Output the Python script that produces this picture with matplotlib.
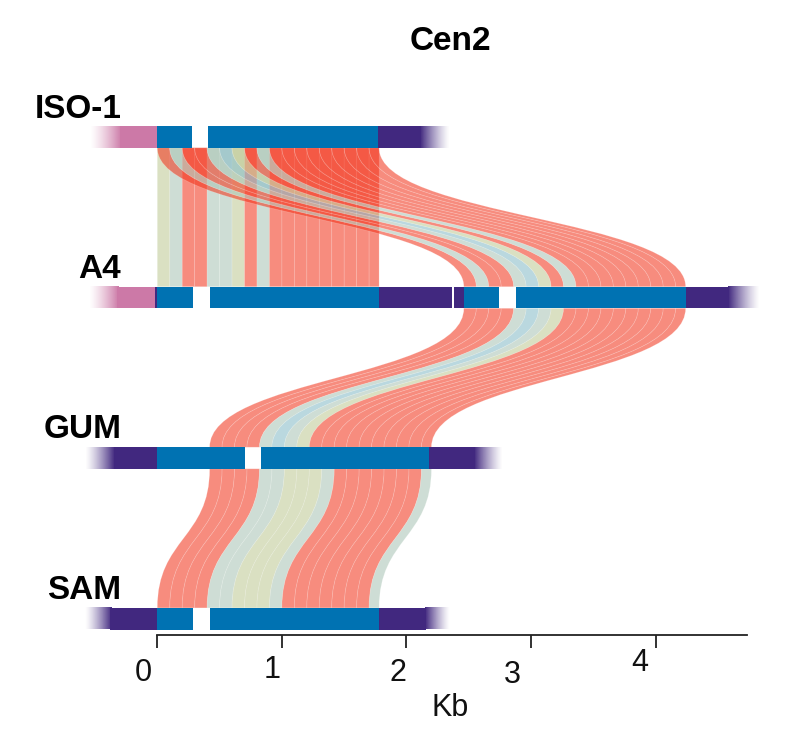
import numpy as np
import matplotlib
matplotlib.use("Agg")
import matplotlib.pyplot as plt
from matplotlib.path import Path
from matplotlib.patches import PathPatch, Rectangle
from matplotlib.colors import to_rgb

plt.rcParams['font.family'] = ['Liberation Sans', 'DejaVu Sans']

# ---- data (Kb) ----
tracks = ['ISO-1', 'A4', 'GUM', 'SAM']

# solid bar segments per track: (start, end, kind)
bar_segments = {
    'ISO-1': [(-0.30, 0.0, 'pink'), (0.0, 0.28, 'blue'), (0.41, 1.77, 'blue'), (1.77, 2.12, 'purple')],
    'A4': [(-0.32, 0.0, 'pink'), (-0.015, 0.0, 'purple'), (0.0, 0.29, 'blue'), (0.42, 1.78, 'blue'),
           (1.78, 2.368, 'purple'), (2.378, 2.46, 'purple'), (2.46, 2.74, 'blue'), (2.88, 4.24, 'blue'),
           (4.24, 4.59, 'purple')],
    'GUM': [(-0.35, 0.0, 'purple'), (0.0, 0.70, 'blue'), (0.83, 2.18, 'blue'), (2.18, 2.55, 'purple')],
    'SAM': [(-0.38, 0.0, 'purple'), (0.0, 0.29, 'blue'), (0.42, 1.78, 'blue'), (1.78, 2.16, 'purple')],
}
# faded ends: (start, end, kind, direction) direction +1 fades in, -1 fades out
bar_fades = {
    'ISO-1': [(-0.54, -0.30, 'pink', 1), (2.12, 2.35, 'purple', -1)],
    'A4': [(-0.55, -0.32, 'pink', 1), (4.59, 4.83, 'purple', -1)],
    'GUM': [(-0.58, -0.35, 'purple', 1), (2.55, 2.77, 'purple', -1)],
    'SAM': [(-0.58, -0.38, 'purple', 1), (2.16, 2.35, 'purple', -1)],
}

# synteny links
link_from = ['ISO-1', 'ISO-1', 'A4', 'GUM']
link_to = ['A4', 'A4', 'GUM', 'SAM']
link_from_start = [0.0, 0.0, 2.46, 0.42]
link_to_start = [0.0, 2.46, 0.42, 0.0]
link_length = [1.78, 1.78, 1.78, 1.78]
block_kb = 0.1
link_blocks = ['YGSSGGYSGSSSSSSSSS',
               'SGSSGBYSGSSSSSSSSS',
               'SSSSGBGYSSSSSSSSSS',
               'SSSSGGYYYGSSSSSSSG']

tick_values = [0, 1, 2, 3, 4]
tick_labels = ['0', '1', '2', '3', '4']
axis_end = 4.73

# ---- style / layout ----
bar_colors = {'blue': '#0072b2', 'purple': '#41287f', 'pink': '#cc79a7'}
block_colors = {'S': (242/255, 50/255, 25/255), 'G': (169/255, 196/255, 180/255),
                'Y': (189/255, 200/255, 146/255), 'B': (132/255, 187/255, 198/255)}
block_alpha = 0.56
track_y = {'ISO-1': 137, 'A4': 297.5, 'GUM': 458, 'SAM': 618.7}
hh = 10.8
px_per_kb = 124.6
x0_px = 157.3
# tick label offsets in pixels (dx, y)
tick_dx = [-14, -9.5, -9, -19, -16]
tick_y = [673, 670, 673, 675, 663]

fig = plt.figure(figsize=(8.12, 7.43), dpi=100)
ax = fig.add_axes([0, 0, 1, 1])

# ribbons
for fr, to, fs, ts, ln, blocks in zip(link_from, link_to, link_from_start, link_to_start,
                                       link_length, link_blocks):
    yt = track_y[fr] + hh
    yb = track_y[to] - hh
    ym = (yt + yb) / 2
    for i, cls in enumerate(blocks):
        a0 = fs + i * block_kb
        a1 = min(fs + (i + 1) * block_kb, fs + ln)
        b0 = ts + i * block_kb
        b1 = min(ts + (i + 1) * block_kb, ts + ln)
        verts = [(a0, yt), (a0, ym), (b0, ym), (b0, yb), (b1, yb),
                 (b1, ym), (a1, ym), (a1, yt), (a0, yt)]
        codes = [Path.MOVETO, Path.CURVE4, Path.CURVE4, Path.CURVE4, Path.LINETO,
                 Path.CURVE4, Path.CURVE4, Path.CURVE4, Path.CLOSEPOLY]
        ax.add_patch(PathPatch(Path(verts, codes), facecolor=(*block_colors[cls], block_alpha),
                               edgecolor=(1, 1, 1, 0.22), lw=0.5, zorder=2))

# bars
for t in tracks:
    y = track_y[t]
    for s, e, kind in bar_segments[t]:
        ax.add_patch(Rectangle((s, y - hh), e - s, 2 * hh, facecolor=bar_colors[kind],
                               edgecolor='none', lw=0, zorder=4))
    for s, e, kind, d in bar_fades[t]:
        rgb = to_rgb(bar_colors[kind])
        n = 64
        img = np.zeros((1, n, 4))
        img[0, :, :3] = rgb
        alpha = np.linspace(0, 1, n) ** 1.3
        img[0, :, 3] = alpha if d > 0 else alpha[::-1]
        # overlap the solid part a little so no seam shows
        ext = (s, e + 0.01, y + hh, y - hh) if d > 0 else (s - 0.01, e, y + hh, y - hh)
        ax.imshow(img, extent=ext, aspect='auto', interpolation='bilinear', zorder=3)
    ax.text(-0.29, y - 28, t, ha='right', va='center', fontsize=24, fontweight='bold', zorder=5)

ax.set_xlim(-x0_px / px_per_kb, (812 - x0_px) / px_per_kb)
ax.set_ylim(743, 0)

# axis
for side in ['top', 'left', 'right']:
    ax.spines[side].set_visible(False)
ax.spines['bottom'].set_position(('data', 635))
ax.spines['bottom'].set_bounds(0, axis_end)
ax.spines['bottom'].set_linewidth(1.3)
ax.spines['bottom'].set_color('#222222')
ax.set_xticks(tick_values)
ax.set_yticks([])
ax.tick_params(axis='x', direction='out', length=9.4, width=1.3, color='#222222',
               labelbottom=False)
for v, lbl, dx, ty in zip(tick_values, tick_labels, tick_dx, tick_y):
    ax.text(v + dx / px_per_kb, ty, lbl, ha='center', va='center', fontsize=22, color='#111111')
ax.text(2.35, 708, 'Kb', ha='center', va='center', fontsize=22, color='#111111')
ax.text(2.35, 42, 'Cen2', ha='center', va='center', fontsize=24, fontweight='bold')
ax.patch.set_visible(False)

fig.savefig('out.png', dpi=100)
